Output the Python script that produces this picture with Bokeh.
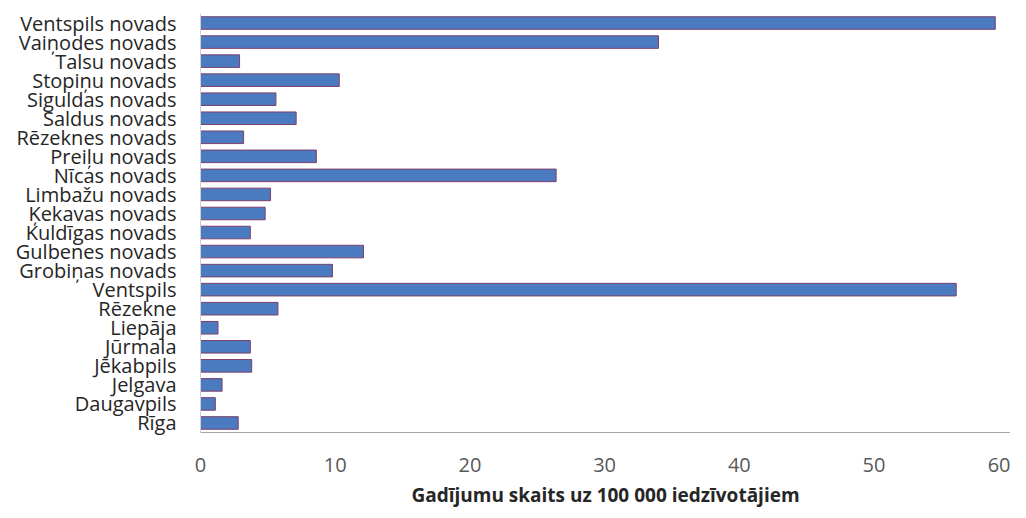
from bokeh.plotting import figure
from bokeh.models import FactorRange, Range1d, FixedTicker
from bokeh.embed import file_html
from bokeh.resources import INLINE

# categories listed top to bottom as in the chart
places = ["Ventspils novads", "Vaiņodes novads", "Talsu novads", "Stopiņu novads",
          "Siguldas novads", "Saldus novads", "Rēzeknes novads", "Preiļu novads",
          "Nīcas novads", "Limbažu novads", "Ķekavas novads", "Kuldīgas novads",
          "Gulbenes novads", "Grobiņas novads", "Ventspils", "Rēzekne", "Liepāja",
          "Jūrmala", "Jēkabpils", "Jelgava", "Daugavpils", "Rīga"]
rates = [59.0, 34.0, 2.9, 10.3,
         5.6, 7.1, 3.2, 8.6,
         26.4, 5.2, 4.8, 3.7,
         12.1, 9.8, 56.1, 5.75, 1.3,
         3.7, 3.8, 1.6, 1.1, 2.8]
x_ticks = [0, 10, 20, 30, 40, 50, 60]
x_title = "Gadījumu skaits uz 100 000 iedzīvotājiem"

factors = list(reversed(places))
p = figure(width=1010, height=510, output_backend="svg", toolbar_location=None,
           y_range=FactorRange(factors=factors, range_padding=0),
           x_range=Range1d(0, 60.13),
           min_border_left=200, min_border_right=0, min_border_top=13, min_border_bottom=78)

p.hbar(y=places, right=rates, left=0, height=0.66,
       fill_color="#4a7bc0", line_color="#7e3f6c", line_width=1)

p.outline_line_color = None
p.xgrid.grid_line_color = None
p.ygrid.grid_line_color = None

xa = p.xaxis[0]
xa.ticker = FixedTicker(ticks=x_ticks)
xa.axis_line_color = "#a6a6a6"
xa.major_tick_out = 0
xa.major_tick_in = 0
xa.minor_tick_out = 0
xa.minor_tick_in = 0
xa.major_label_standoff = 25
xa.major_label_text_font = "Open Sans"
xa.major_label_text_font_size = "20px"
xa.major_label_text_color = "#595959"
xa.axis_label = x_title
xa.axis_label_text_font = "Open Sans"
xa.axis_label_text_font_style = "bold"
xa.axis_label_text_font_size = "19px"
xa.axis_label_text_color = "#262626"
xa.axis_label_standoff = 7

ya = p.yaxis[0]
ya.axis_line_color = "#d0d0d0"
ya.major_tick_out = 0
ya.major_tick_in = 0
ya.minor_tick_out = 0
ya.minor_tick_in = 0
ya.major_label_standoff = 24
ya.major_label_text_font = "Open Sans"
ya.major_label_text_font_size = "20px"
ya.major_label_text_color = "#262626"

open("out.html", "w").write(file_html(p, INLINE))
